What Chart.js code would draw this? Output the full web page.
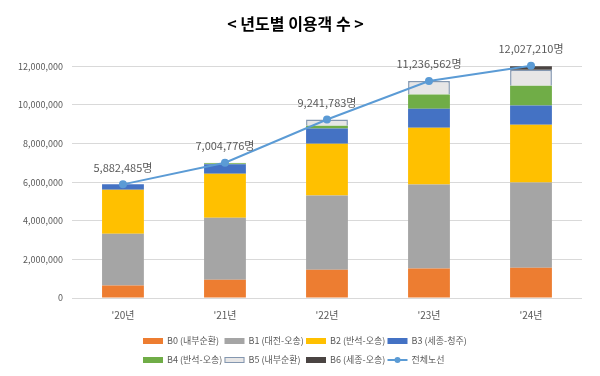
<!DOCTYPE html>
<html>
<head>
<meta charset="utf-8">
<script src="https://cdn.jsdelivr.net/npm/chart.js@4.4.1/dist/chart.umd.min.js"></script>
<style>
  html, body { margin: 0; padding: 0; background: #fff; }
  #wrap { width: 600px; height: 376px; }
</style>
</head>
<body>
<div id="wrap"><canvas id="usersChart"></canvas></div>
<script>
// data
const years = ["'20년", "'21년", "'22년", "'23년", "'24년"];
const b0 = [650000, 940000, 1460000, 1530000, 1560000];
const b1 = [2680000, 3210000, 3840000, 4350000, 4420000];
const b2 = [2270000, 2280000, 2690000, 2940000, 2990000];
const b3 = [282485, 500000, 790000, 980000, 1000000];
const b4 = [0, 40000, 140000, 740000, 1020000];
const b5 = [0, 34776, 321783, 696562, 820000];
const b6 = [0, 0, 0, 0, 217210];
const total = [5882485, 7004776, 9241783, 11236562, 12027210];
const yTicks = [0, 2000000, 4000000, 6000000, 8000000, 10000000, 12000000];

const numFont = "'Noto Sans CJK KR', sans-serif";
const krFont = "'Noto Sans CJK KR', sans-serif";
const fmt = v => v.toLocaleString('en-US');

// labels above the total line
const totalLabels = {
  id: 'totalLabels',
  afterDatasetsDraw(chart) {
    const meta = chart.getDatasetMeta(7);
    const ctx = chart.ctx;
    ctx.save();
    ctx.font = '11px ' + numFont;
    ctx.fillStyle = '#595959';
    ctx.textAlign = 'center';
    ctx.textBaseline = 'middle';
    meta.data.forEach((pt, i) => {
      ctx.fillText(fmt(total[i]) + '명', pt.x, pt.y - 17);
    });
    ctx.restore();
  }
};

// two row legend, 4 columns like the original
const gridLegend = {
  id: 'gridLegend',
  afterDraw(chart) {
    const ctx = chart.ctx;
    const startX = 143, colW = 81.5, rowY = [341, 360];
    ctx.save();
    ctx.font = '9px ' + krFont;
    ctx.textBaseline = 'middle';
    chart.data.datasets.forEach((ds, i) => {
      const x = startX + (i % 4) * colW;
      const y = rowY[Math.floor(i / 4)];
      if (ds.type === 'line') {
        ctx.strokeStyle = ds.borderColor;
        ctx.lineWidth = 2;
        ctx.beginPath();
        ctx.moveTo(x, y);
        ctx.lineTo(x + 20, y);
        ctx.stroke();
        ctx.fillStyle = ds.borderColor;
        ctx.beginPath();
        ctx.arc(x + 10, y, 3, 0, Math.PI * 2);
        ctx.fill();
      } else {
        ctx.fillStyle = ds.backgroundColor;
        ctx.fillRect(x, y - 3, 20, 6);
        if (ds.borderWidth) {
          ctx.strokeStyle = ds.borderColor;
          ctx.lineWidth = 1;
          ctx.strokeRect(x + 0.5, y - 2.5, 19, 5);
        }
      }
      ctx.fillStyle = '#595959';
      ctx.fillText(ds.label, x + 24, y);
    });
    ctx.restore();
  }
};

function barSet(label, data, color, extra) {
  return Object.assign({
    type: 'bar', label, data, backgroundColor: color,
    stack: 'bars', order: 2, borderWidth: 0,
    categoryPercentage: 1, barPercentage: 0.41
  }, extra || {});
}

new Chart(document.getElementById('usersChart'), {
  data: {
    labels: years,
    datasets: [
      barSet('B0 (내부순환)', b0, '#ED7D31'),
      barSet('B1 (대전-오송)', b1, '#A5A5A5'),
      barSet('B2 (반석-오송)', b2, '#FFC000'),
      barSet('B3 (세종-청주)', b3, '#4472C4'),
      barSet('B4 (반석-오송)', b4, '#70AD47'),
      barSet('B5 (내부순환)', b5, '#E7E6E6', { borderColor: '#8497B0', borderWidth: 1.5 }),
      barSet('B6 (세종-오송)', b6, '#4A4442'),
      {
        type: 'line', label: '전체노선', data: total,
        stack: 'total', order: 1, clip: false,
        borderColor: '#5B9BD5', backgroundColor: '#5B9BD5',
        borderWidth: 2, pointRadius: 3, pointHoverRadius: 3, tension: 0
      }
    ]
  },
  options: {
    responsive: true,
    maintainAspectRatio: false,
    animation: false,
    layout: { padding: { top: 0, left: 9, right: 18, bottom: 51 } },
    plugins: {
      legend: { display: false },
      tooltip: { enabled: false },
      title: {
        display: true,
        text: '< 년도별 이용객 수 >',
        color: '#000',
        font: { family: krFont, size: 16, weight: 'bold' },
        padding: { top: 14, bottom: 33 }
      }
    },
    scales: {
      x: {
        stacked: true,
        grid: { display: false },
        border: { display: false },
        ticks: { color: '#595959', font: { family: numFont, size: 10 }, padding: 3.5 }
      },
      y: {
        stacked: true,
        min: 0,
        max: 12000000,
        afterBuildTicks: axis => { axis.ticks = yTicks.map(v => ({ value: v })); },
        grid: { color: '#D9D9D9', drawTicks: false },
        border: { display: false },
        ticks: { color: '#595959', font: { family: numFont, size: 9 }, padding: 9, callback: v => fmt(v) }
      }
    }
  },
  plugins: [totalLabels, gridLegend]
});
</script>
</body>
</html>
